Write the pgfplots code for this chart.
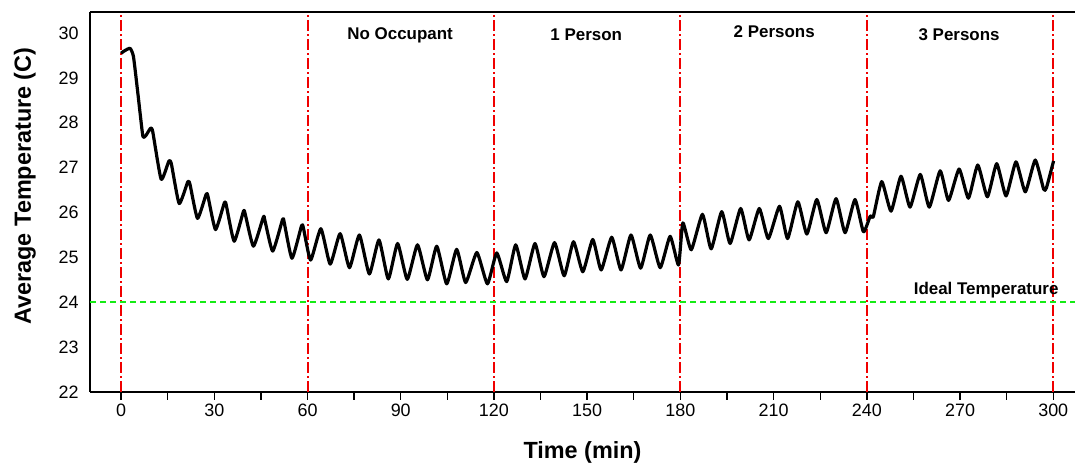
\documentclass[border=0pt]{standalone}
\usepackage{fontspec}
\setmainfont{Liberation Sans}
\usepackage{pgfplots}
\pgfplotsset{compat=1.18}
\definecolor{vred}{RGB}{240,0,0}
\definecolor{igreen}{RGB}{20,235,20}

\begin{document}
\begin{tikzpicture}
\begin{axis}[
  scale only axis, width=985bp, height=380bp,
  xmin=-10, xmax=307, ymin=22, ymax=30.47,
  axis x line*=box, axis y line*=left,
  xtick={0,30,...,300}, minor xtick={15,45,...,285},
  xtick pos=bottom,
  ytick={22,23,...,30}, ytick style={draw=none},
  tick align=outside, major tick length=8bp, minor tick length=8bp,
  axis line style={line width=1.8bp, black},
  tick style={line width=1.4bp, black},
  ticklabel style={font=\fontsize{18}{20}\selectfont},
  /pgf/number format/assume math mode=true,
  xlabel={Time (min)}, ylabel={Average Temperature (C)},
  label style={font=\bfseries\fontsize{23.5}{25}\selectfont},
  xlabel style={at={(axis description cs:0.5,-0.158)}, anchor=center},
  ylabel style={at={(axis description cs:-0.066,0.542)}, anchor=center},
  clip=false,
]
% phase boundaries
\foreach \t in {0,60,120,180,240,300}{
  \edef\tmp{\noexpand\addplot[vred, line width=2bp,
    dash pattern=on 11bp off 3bp on 2bp off 3bp, forget plot]
    coordinates {(\t,22) (\t,30.47)};}
  \tmp
}
% ideal temperature
\addplot[igreen, line width=2bp, dash pattern=on 6bp off 4bp]
  coordinates {(-10,24) (307,24)};
% average temperature
\addplot[black, line width=3.2bp, line join=round, smooth, tension=0.3]
  coordinates {
  (0,29.55) (1,29.6) (2.9,29.66) (4.0,29.47) (5.5,28.6) (7.0,27.71) (8,27.72)
  (9.5,27.88) (10.2,27.8) (12.9,26.74) (15.4,27.15) (16.2,27.08) (18.7,26.20)
  (21.5,26.69) (22.2,26.62) (24.6,25.87) (27.4,26.41) (28,26.35) (30.4,25.62)
  (33.3,26.23) (33.9,26.15) (36.4,25.36) (39.4,26.03) (40,25.95) (42.6,25.25)
  (45.8,25.90) (46.3,25.82) (48.8,25.14) (52.0,25.85) (52.5,25.78) (55.0,24.98)
  (58.1,25.71) (58.7,25.65) (61.0,24.94) (64.3,25.64) (67.3,24.85) (70.5,25.53)
  (73.5,24.77) (76.7,25.50) (79.9,24.63) (83.0,25.39) (86.0,24.52) (89.0,25.31)
  (92.1,24.51) (95.4,25.28) (98.6,24.50) (101.6,25.25) (104.8,24.41) (108.0,25.18)
  (110.9,24.44) (114.5,25.11) (117.9,24.41) (120.9,25.10) (124.1,24.46) (127.0,25.28)
  (130.0,24.52) (133.2,25.31) (136.1,24.57) (139.5,25.33) (142.6,24.59) (145.6,25.35)
  (148.6,24.68) (151.8,25.40) (154.5,24.72) (157.9,25.45) (160.9,24.72) (164.1,25.50)
  (167.2,24.76) (170.3,25.50) (173.5,24.77) (176.7,25.47) (179.4,24.83) (180.8,25.77)
  (183.5,25.17) (187.1,25.96) (189.9,25.19) (193.3,26.02) (196.0,25.31) (199.4,26.09)
  (202.1,25.39) (205.4,26.09) (208.3,25.42) (211.9,26.14) (214.5,25.42) (217.8,26.24)
  (220.7,25.52) (223.9,26.29) (226.9,25.55) (230.1,26.31) (233.0,25.55) (236.2,26.29)
  (238.9,25.57) (241.1,25.92) (242.1,25.91) (244.8,26.69) (247.8,26.03) (251.0,26.81)
  (253.9,26.12) (257.2,26.85) (260.1,26.12) (263.6,26.93) (266.3,26.27) (269.7,26.97)
  (272.7,26.32) (275.7,27.06) (278.8,26.35) (281.8,27.09) (284.8,26.37) (288.0,27.13)
  (291.0,26.46) (294.2,27.17) (296.9,26.52) (297.8,26.55) (300.1,27.15)
  };
\node[font=\bfseries\fontsize{17}{19}\selectfont] at (axis cs:89.8,29.96) {No Occupant};
\node[font=\bfseries\fontsize{17}{19}\selectfont] at (axis cs:149.7,29.96) {1 Person};
\node[font=\bfseries\fontsize{17}{19}\selectfont] at (axis cs:210.2,30.04) {2 Persons};
\node[font=\bfseries\fontsize{17}{19}\selectfont] at (axis cs:269.7,29.96) {3 Persons};
\node[font=\bfseries\fontsize{17}{19}\selectfont] at (axis cs:278.4,24.26) {Ideal Temperature};
\end{axis}
\pgfresetboundingbox
\useasboundingbox ([xshift=-90bp,yshift=-71bp]current axis.south west)
  rectangle ([yshift=12bp]current axis.north east);
\end{tikzpicture}
\end{document}
